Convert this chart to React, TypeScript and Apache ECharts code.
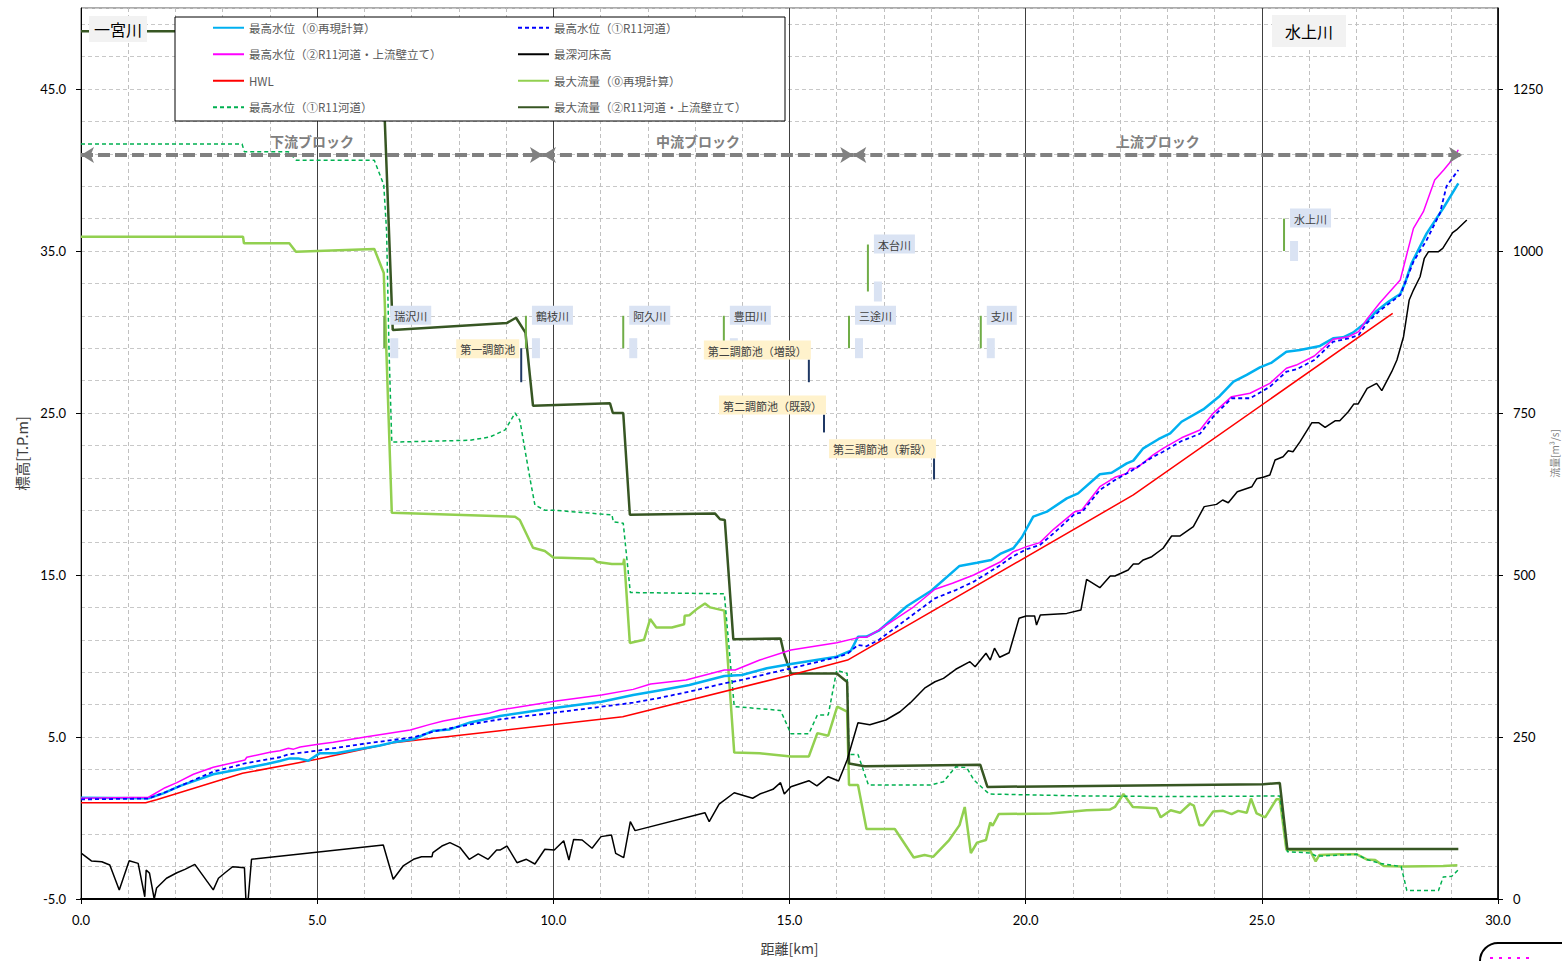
import React, { useEffect, useRef } from 'react';
import * as echarts from 'echarts';

// ---------- data (distance km, value) ----------
const wl0 = [[0,1.25],[1.43,1.22],[1.74,1.52],[2.10,1.98],[2.80,2.70],[3.47,3.07],[3.93,3.33],[4.21,3.52],[4.42,3.68],[4.60,3.68],[4.81,3.53],[5.05,3.99],[5.40,4.0],[6.33,4.48],[6.61,4.67],[7.04,4.86],[7.46,5.39],[7.81,5.47],[8.24,5.90],[8.87,6.30],[9.98,6.77],[11.02,7.17],[11.69,7.59],[12.21,7.86],[12.88,8.21],[13.62,8.77],[13.99,8.83],[14.52,9.24],[15.03,9.51],[16.00,9.96],[16.30,10.33],[16.45,11.19],[16.63,11.2],[16.89,11.56],[17.49,13.09],[18.00,14.03],[18.60,15.56],[18.97,15.76],[19.27,15.93],[19.46,16.30],[19.74,16.65],[19.92,17.33],[20.16,18.60],[20.45,18.91],[20.87,19.73],[21.11,20.04],[21.57,21.22],[21.82,21.31],[22.14,21.89],[22.28,22.06],[22.49,22.82],[22.81,23.38],[23.06,23.74],[23.30,24.46],[23.76,25.22],[24.11,26.05],[24.40,26.93],[24.68,27.35],[24.96,27.82],[25.21,28.11],[25.52,28.78],[25.81,28.89],[26.23,29.14],[26.51,29.61],[26.72,29.67],[26.93,29.96],[27.22,30.64],[27.43,31.30],[27.68,31.87],[27.93,32.35],[28.03,33.01],[28.17,34.24],[28.49,36.09],[28.84,37.64],[29.16,39.18]];
const wl1 = [[0,1.15],[1.43,1.20],[1.81,1.62],[2.80,2.86],[3.47,3.37],[4.21,3.75],[4.39,3.93],[4.99,4.15],[6.05,4.61],[7.04,4.98],[7.46,5.33],[8.24,5.78],[8.87,6.09],[9.98,6.49],[11.02,6.87],[11.69,7.12],[12.21,7.39],[12.88,7.80],[13.62,8.31],[13.99,8.52],[14.52,8.89],[15.03,9.24],[16.00,9.92],[16.22,10.12],[16.45,10.68],[16.63,10.6],[16.89,10.99],[17.63,12.59],[18.08,13.56],[18.52,14.07],[18.90,14.59],[19.46,15.6],[19.74,16.17],[20.02,16.59],[20.30,16.85],[20.59,17.57],[21.04,18.77],[21.19,18.87],[21.57,20.25],[21.89,20.86],[22.21,21.38],[22.70,22.30],[22.91,22.61],[23.30,23.27],[23.69,23.72],[23.97,24.77],[24.36,25.91],[24.75,25.91],[25.17,26.62],[25.52,27.55],[25.73,27.69],[26.11,28.27],[26.51,29.40],[26.84,29.61],[27.05,29.81],[27.22,30.54],[27.50,31.32],[27.93,32.28],[28.21,34.34],[28.49,35.68],[28.77,37.33],[28.91,39.0],[29.16,40.0]];
const wl2 = [[0,1.22],[1.43,1.28],[1.78,1.87],[2.03,2.18],[2.38,2.70],[2.80,3.13],[3.47,3.58],[3.51,3.75],[4.00,4.06],[4.21,4.15],[4.39,4.30],[4.50,4.25],[4.64,4.38],[5.02,4.55],[5.34,4.67],[6.05,5.02],[6.97,5.43],[7.39,5.78],[7.67,5.99],[8.24,6.30],[8.62,6.46],[8.87,6.67],[10.06,7.22],[11.02,7.59],[11.69,7.94],[12.06,8.27],[12.81,8.52],[13.62,9.14],[13.85,9.14],[14.37,9.75],[15.03,10.37],[16.00,10.82],[16.48,11.15],[16.63,11.15],[16.89,11.60],[17.63,13.04],[18.08,14.12],[18.45,14.49],[18.90,15.00],[19.46,15.8],[19.74,16.44],[20.02,16.75],[20.30,17.00],[20.59,17.82],[21.04,18.91],[21.19,19.01],[21.57,20.45],[21.89,21.03],[22.14,21.27],[22.21,21.58],[22.35,21.6],[22.70,22.41],[22.91,22.82],[23.30,23.47],[23.69,23.95],[23.97,24.98],[24.36,26.01],[24.75,26.22],[25.17,26.83],[25.52,27.76],[25.73,27.96],[26.11,28.52],[26.51,29.55],[26.84,29.71],[27.05,30.02],[27.22,30.78],[27.50,31.81],[27.93,33.21],[28.21,36.40],[28.42,37.43],[28.66,39.38],[28.85,40.0],[29.06,40.74],[29.16,41.25]];
const hwl = [[0,0.94],[1.37,0.94],[1.60,1.13],[3.42,2.76],[4.99,3.62],[6.61,4.65],[8.87,5.39],[11.47,6.25],[15.03,8.83],[16.23,9.75],[22.28,19.94],[27.77,31.15]];
const bed = [[0.01,-2.18],[0.22,-2.65],[0.44,-2.70],[0.61,-2.90],[0.81,-4.44],[1.02,-2.64],[1.21,-2.80],[1.35,-4.86],[1.38,-3.21],[1.45,-3.4],[1.55,-5.0],[1.60,-4.32],[1.81,-3.72],[2.03,-3.38],[2.20,-3.17],[2.41,-2.86],[2.80,-4.44],[2.91,-3.72],[3.05,-3.38],[3.21,-3.01],[3.46,-3.07],[3.49,-4.96],[3.54,-5.0],[3.61,-2.55],[6.40,-1.67],[6.61,-3.78],[6.82,-2.96],[7.04,-2.55],[7.21,-2.39],[7.43,-2.39],[7.45,-2.14],[7.64,-1.73],[7.81,-1.52],[8.02,-1.81],[8.22,-2.55],[8.41,-2.22],[8.62,-2.55],[8.80,-1.98],[8.87,-1.98],[9.02,-1.73],[9.23,-2.76],[9.43,-2.55],[9.61,-2.84],[9.82,-1.93],[10.02,-1.98],[10.22,-1.40],[10.33,-2.59],[10.43,-1.32],[10.61,-1.36],[10.82,-1.87],[11.01,-1.15],[11.23,-1.05],[11.32,-2.18],[11.49,-2.45],[11.63,-0.23],[11.73,-0.78],[13.21,0.33],[13.30,-0.23],[13.51,0.86],[13.83,1.56],[14.22,1.22],[14.37,1.48],[14.65,1.77],[14.81,2.18],[14.89,1.48],[15.03,1.93],[15.41,2.30],[15.58,1.98],[15.82,2.55],[16.04,2.28],[16.22,3.58],[16.45,5.88],[16.70,5.76],[17.04,6.05],[17.34,6.56],[17.56,7.12],[17.86,8.01],[18.08,8.41],[18.26,8.62],[18.52,9.18],[18.82,9.65],[18.93,9.34],[19.16,10.17],[19.25,9.75],[19.34,10.48],[19.45,9.92],[19.65,10.20],[19.86,12.33],[20.01,12.47],[20.19,12.47],[20.23,11.91],[20.31,12.53],[20.87,12.63],[21.17,12.84],[21.29,14.73],[21.57,14.22],[21.79,14.94],[21.89,14.94],[22.17,15.31],[22.28,15.68],[22.39,15.68],[22.49,15.93],[22.67,16.13],[22.91,16.65],[23.09,17.41],[23.27,17.41],[23.55,17.98],[23.78,19.22],[24.04,19.36],[24.17,19.63],[24.29,19.46],[24.48,20.14],[24.79,20.45],[24.89,20.94],[25.03,21.03],[25.17,21.17],[25.28,22.10],[25.45,22.30],[25.56,22.67],[25.66,22.61],[25.81,23.23],[26.06,24.40],[26.20,24.40],[26.34,24.11],[26.55,24.52],[26.65,24.52],[26.83,25.08],[26.95,25.56],[27.04,25.56],[27.23,26.52],[27.43,26.83],[27.54,26.38],[27.75,27.55],[27.86,28.27],[28.00,29.71],[28.12,31.98],[28.21,32.59],[28.35,33.41],[28.44,34.55],[28.53,34.96],[28.74,34.96],[28.83,35.16],[29.04,36.13],[29.12,36.30],[29.34,36.91]];
// flows (m3/s)
const q0 = [[0,1022],[3.43,1022],[3.45,1012],[4.41,1012],[4.55,999],[6.21,1003],[6.41,966],[6.58,596],[9.19,590],[9.29,585],[9.57,542],[9.82,537],[10.0,527],[10.85,525],[10.93,520],[11.24,517],[11.48,517],[11.50,525],[11.62,395],[11.92,400],[12.05,432],[12.18,419],[12.51,419],[12.77,424],[12.78,437],[12.88,438],[13.03,447],[13.21,456],[13.32,450],[13.62,445],[13.83,226],[14.37,225],[15.03,220],[15.41,220],[15.59,256],[15.82,252],[16.01,297],[16.22,289],[16.26,176],[16.45,176],[16.63,108],[17.23,108],[17.63,64],[17.86,68],[18.04,65],[18.38,91],[18.60,114],[18.71,142],[18.84,71],[18.97,87],[19.16,91],[19.25,118],[19.30,113],[19.43,131],[20.52,132],[21.01,135],[21.29,137],[21.78,138],[21.89,142],[22.07,162],[22.27,142],[22.77,140],[22.86,126],[23.07,137],[23.27,133],[23.48,147],[23.56,144],[23.68,114],[23.76,114],[23.97,135],[24.18,136],[24.36,131],[24.50,136],[24.68,133],[24.77,155],[24.89,132],[25.07,126],[25.31,154],[25.38,154],[25.52,76],[26.02,75],[26.14,58],[26.22,68],[26.66,69],[27.01,69],[27.22,61],[27.40,60],[27.58,51],[28.00,50],[28.84,51],[29.14,52]];
const q1 = [[0,1165],[3.41,1165],[3.46,1153],[4.39,1153],[4.56,1140],[6.21,1140],[6.41,1102],[6.47,1030],[6.52,850],[6.58,705],[8.24,708],[8.66,713],[8.98,724],[9.19,750],[9.29,739],[9.51,647],[9.61,608],[9.82,600],[10.0,600],[11.02,594],[11.24,593],[11.27,582],[11.48,580],[11.63,473],[13.62,471],[13.83,297],[14.81,291],[15.03,255],[15.41,255],[15.59,284],[15.82,284],[16.00,353],[16.22,348],[16.26,223],[16.45,223],[16.67,176],[18.00,176],[18.26,181],[18.52,204],[18.75,203],[18.90,184],[19.12,169],[19.23,162],[21.22,159],[23.34,158],[25.31,159],[25.38,159],[25.54,73],[26.02,71],[26.16,66],[27.01,69],[27.22,61],[27.50,55],[27.95,50],[28.07,13],[28.74,13],[28.84,34],[29.02,35],[29.16,45]];
const q2 = [[0,1339],[6.36,1339],[6.60,878],[9.02,889],[9.21,897],[9.41,874],[9.57,761],[11.20,765],[11.26,750],[11.48,750],[11.62,593],[13.42,595],[13.53,586],[13.63,585],[13.81,401],[14.81,402],[14.89,377],[15.03,348],[16.00,348],[16.22,335],[16.26,209],[16.59,205],[19.04,207],[19.19,173],[25.03,177],[25.38,179],[25.54,77],[29.16,77]];

const tributaryNames = ['瑞沢川', '鶴枝川', '阿久川', '豊田川', '本台川', '三途川', '支川', '水上川'];
const tributaryKm = [6.42, 9.42, 11.48, 13.61, 16.66, 16.26, 19.05, 25.47];
const tributaryLow = [29.0, 29.0, 29.0, 29.0, 32.5, 29.0, 29.0, 35.0];
const tributaryHigh = [31.0, 31.0, 31.0, 31.0, 35.4, 31.0, 31.0, 37.0];

const pondNames = ['第一調節池', '第二調節池（増設）', '第二調節池（既設）', '第三調節池（新設）'];
const pondKm = [9.32, 15.41, 15.73, 18.06];
const pondLow = [26.9, 26.9, 23.8, 20.9];
const pondHigh = [29.0, 28.3, 24.9, 22.2];

const blockNames = ['下流ブロック', '中流ブロック', '上流ブロック'];
const blockStart = [0, 9.78, 16.35];
const blockEnd = [9.78, 16.35, 29.24];
const blockLevel = 40.93;

const seriesLabels: Record<string, string> = {
  wl0: '最高水位（⓪再現計算）',
  wl1: '最高水位（①R11河道）',
  wl2: '最高水位（②R11河道・上流壁立て）',
  bed: '最深河床高',
  hwl: 'HWL',
  q0: '最大流量（⓪再現計算）',
  q1: '最高水位（①R11河道）',
  q2: '最大流量（②R11河道・上流壁立て）',
};

const JP = '"Noto Sans CJK JP", "Noto Sans", sans-serif';
const NUM = 'Lato, "Noto Sans", sans-serif';

export default function App() {
  const ref = useRef<HTMLDivElement>(null);
  useEffect(() => {
    document.documentElement.style.overflow = 'hidden';
    document.body.style.margin = '0';
    document.body.style.overflow = 'hidden';
    const chart = echarts.init(ref.current!, null, { renderer: 'svg', width: 1562, height: 961 });
    const line = (name: string, data: number[][], color: string, width: number, yIdx: number, dash?: any, z = 2) => ({
      name, type: 'line', data, xAxisIndex: 0, yAxisIndex: yIdx, symbol: 'none', showSymbol: false, z,
      lineStyle: { color, width, type: dash || 'solid' }, itemStyle: { color }, emphasis: { disabled: true },
    });
    const legendBase = {
      top: 22, orient: 'vertical', itemWidth: 31, itemHeight: 14, itemGap: 15, padding: 0, selectedMode: false, z: 12,
      formatter: (n: string) => seriesLabels[n],
      itemStyle: { opacity: 0, color: 'rgba(0,0,0,0)', borderWidth: 0 },
      textStyle: { fontSize: 11.5, color: '#595959', fontFamily: JP },
    };
    const option: any = {
      animation: false,
      backgroundColor: '#ffffff',
      grid: {
        left: 81, right: 64, top: 8, bottom: 62, show: true, borderColor: '#595959', borderWidth: 1,
        containLabel: false, outerBoundsMode: 'none',
      },
      xAxis: [{
        type: 'value', min: 0, max: 30, interval: 5,
        axisLine: { onZero: false, lineStyle: { color: '#000', width: 2 } },
        axisTick: { show: true, length: 5, lineStyle: { color: '#000' } },
        axisLabel: { formatter: (v: number) => v.toFixed(1), color: '#000', fontSize: 13, fontFamily: NUM, margin: 14 },
        splitLine: { show: true, lineStyle: { color: '#404040', width: 1, type: 'solid' } },
        minorTick: { show: false, splitNumber: 5 },
        minorSplitLine: { show: true, lineStyle: { color: '#c0c0c0', width: 1, type: [4, 3] } },
        name: '距離[km]', nameLocation: 'middle', nameGap: 42, nameMoveOverlap: false,
        nameTextStyle: { fontSize: 14, color: '#404040', fontFamily: JP },
      }],
      yAxis: [
        {
          type: 'value', position: 'left', min: -5, max: 50, interval: 10,
          axisLine: { show: true, onZero: false, lineStyle: { color: '#000', width: 1 } },
          axisTick: { show: true, length: 5, lineStyle: { color: '#000' } },
          axisLabel: { formatter: (v: number) => v.toFixed(1), color: '#000', fontSize: 13, fontFamily: NUM, margin: 15, showMaxLabel: false },
          splitLine: { show: false },
          name: '標高[T.P.m]', nameLocation: 'middle', nameGap: 52, nameRotate: 90, nameMoveOverlap: false,
          nameTextStyle: { fontSize: 14.5, color: '#404040', fontFamily: JP },
        },
        {
          type: 'value', position: 'left', min: -5, max: 50, interval: 2,
          axisLine: { show: false }, axisTick: { show: false }, axisLabel: { show: false },
          splitLine: { show: true, lineStyle: { color: '#c8c8c8', width: 1, type: [4, 3] } },
        },
        {
          type: 'value', position: 'right', min: 0, max: 1375, interval: 250,
          axisLine: { show: true, onZero: false, lineStyle: { color: '#000', width: 1.5 } },
          axisTick: { show: true, length: 5, lineStyle: { color: '#000' } },
          axisLabel: { formatter: (v: number) => String(v), color: '#000', fontSize: 13, fontFamily: NUM, margin: 15, showMaxLabel: false },
          splitLine: { show: false },
          name: '流量[m³/s]', nameLocation: 'middle', nameGap: 51, nameRotate: 90, nameMoveOverlap: false,
          nameTextStyle: { fontSize: 10, color: '#7f7f7f', fontFamily: JP },
        },
      ],
      legend: [
        { ...legendBase, data: ['wl0', 'wl2', 'hwl', 'q1'], left: 212 },
        { ...legendBase, data: ['wl1', 'bed', 'q0', 'q2'], left: 517 },
      ],
      graphic: [
        { type: 'rect', z: 10, shape: { x: 175, y: 17, width: 610, height: 104 }, style: { fill: '#fff', stroke: '#000', lineWidth: 1 } },
        { type: 'text', z: 10, x: 89, y: 16, style: { text: '一宮川', fontSize: 16, fill: '#000', fontFamily: JP, backgroundColor: '#f2f2f2', padding: [5, 5, 5, 5] } },
        { type: 'text', z: 10, x: 1272, y: 15, style: { text: '水上川', fontSize: 16, fill: '#000', fontFamily: JP, backgroundColor: '#f2f2f2', padding: [8, 13, 8, 13] } },
        { type: 'rect', z: 10, shape: { x: 1480, y: 943, width: 130, height: 60, r: 18 }, style: { fill: 'none', stroke: '#000', lineWidth: 2 } },
        { type: 'line', z: 10, shape: { x1: 1490, y1: 958, x2: 1535, y2: 958 }, style: { stroke: '#ff00ff', lineWidth: 2, lineDash: [3, 6] } },
      ],
      series: [
        line('q0', q0, '#92d050', 2.5, 2),
        line('q1', q1, '#00b050', 1.5, 2, [4, 3]),
        line('q2', q2, '#375623', 2.5, 2),
        line('bed', bed, '#000000', 1.5, 0),
        line('hwl', hwl, '#ff0000', 1.5, 0),
        line('wl0', wl0, '#00b0f0', 2.5, 0),
        line('wl2', wl2, '#ff00ff', 1.5, 0),
        line('wl1', wl1, '#0000ff', 1.8, 0, [4, 3]),
        {
          type: 'custom', name: 'tributary', coordinateSystem: 'cartesian2d', xAxisIndex: 0, yAxisIndex: 0, z: 6,
          data: tributaryKm.map((k, i) => [k, tributaryLow[i], tributaryHigh[i]]),
          encode: { x: 0, y: [1, 2] },
          renderItem: (params: any, api: any) => {
            const i = params.dataIndex;
            const lo = api.coord([api.value(0), api.value(1)]);
            const hi = api.coord([api.value(0), api.value(2)]);
            return {
              type: 'group', children: [
                { type: 'line', shape: { x1: lo[0], y1: lo[1], x2: hi[0], y2: hi[1] }, style: { stroke: '#70ad47', lineWidth: 2 } },
                { type: 'rect', shape: { x: lo[0] + 6, y: lo[1] - 10, width: 8, height: 20 }, style: { fill: '#dae3f3' } },
                { type: 'text', x: hi[0] + 6, y: hi[1] - 10, style: { text: tributaryNames[i], fill: '#404040', fontSize: 11, lineHeight: 12, fontFamily: JP, backgroundColor: '#dae3f3', padding: [4, 4, 3, 4], align: 'left', verticalAlign: 'top' } },
              ],
            };
          },
        },
        {
          type: 'custom', name: 'pond', coordinateSystem: 'cartesian2d', xAxisIndex: 0, yAxisIndex: 0, z: 7,
          data: pondKm.map((k, i) => [k, pondLow[i], pondHigh[i]]),
          encode: { x: 0, y: [1, 2] },
          renderItem: (params: any, api: any) => {
            const i = params.dataIndex;
            const lo = api.coord([api.value(0), api.value(1)]);
            const hi = api.coord([api.value(0), api.value(2)]);
            const first = i === 0;
            return {
              type: 'group', children: [
                { type: 'line', shape: { x1: lo[0], y1: lo[1], x2: hi[0], y2: hi[1] }, style: { stroke: '#1f3864', lineWidth: 2 } },
                { type: 'text', x: first ? hi[0] - 2 : hi[0] + 2, y: first ? hi[1] + 10 : hi[1], style: { text: pondNames[i], fill: '#404040', fontSize: 11, lineHeight: 12, fontFamily: JP, backgroundColor: '#fff2cc', padding: [4, 4, 3, 4], align: 'right', verticalAlign: 'bottom' } },
              ],
            };
          },
        },
        {
          type: 'line', name: 'blocks', data: [], xAxisIndex: 0, yAxisIndex: 0, z: 8, symbol: 'none',
          markLine: {
            silent: true, symbol: ['arrow', 'arrow'], symbolSize: [12, 13],
            lineStyle: { color: '#808080', width: 4, type: [12, 5] },
            label: { show: true, position: 'insideMiddleTop', formatter: '{b}', color: '#808080', fontWeight: 'bold', fontSize: 14, fontFamily: JP, distance: 7 },
            emphasis: { disabled: true },
            data: blockNames.map((n, i) => [
              { name: n, coord: [blockStart[i], blockLevel] },
              { coord: [blockEnd[i], blockLevel] },
            ]),
          },
        },
      ],
    };
    chart.setOption(option);
    return () => chart.dispose();
  }, []);
  return <div ref={ref} style={{ position: 'fixed', left: 0, top: 0, width: 1562, height: 961, background: '#fff' }} />;
}
